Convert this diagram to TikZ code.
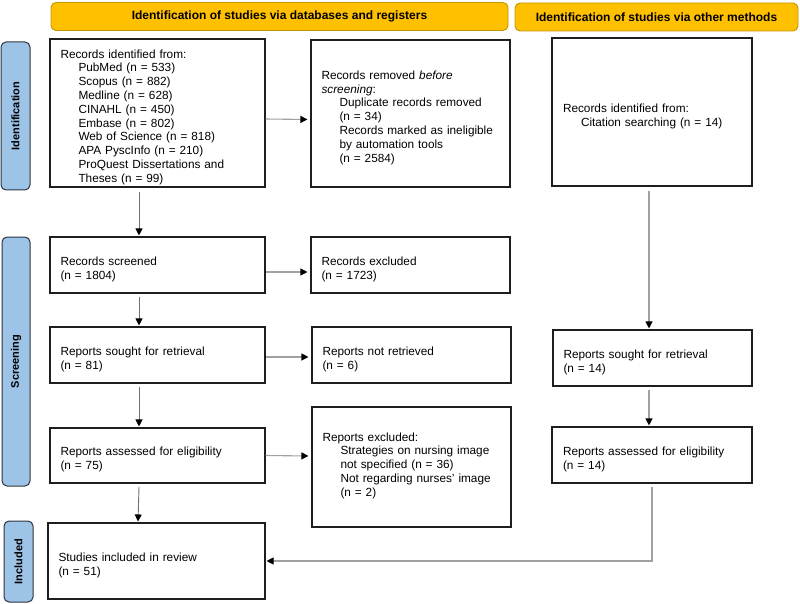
\documentclass[tikz,border=0pt]{standalone}
\usepackage{fontspec}
\setmainfont{Liberation Sans}
\usetikzlibrary{arrows.meta}
\definecolor{hdrfill}{HTML}{FFC000}
\definecolor{hdrdraw}{HTML}{C29500}
\definecolor{sidefill}{HTML}{9DC3E6}
\definecolor{sidedraw}{HTML}{2B3340}
\definecolor{linkgray}{HTML}{A0A0A0}
\definecolor{linkdark}{HTML}{707070}
\definecolor{boxdraw}{HTML}{1E1E1E}
\begin{document}
\begin{tikzpicture}[x=1pt,y=-1pt,
  box/.style={draw=boxdraw,line width=1.1pt,rectangle,inner xsep=10.5pt,inner ysep=0pt,
    align=left,font=\fontsize{11.8}{13.8}\selectfont,anchor=center,
    execute at begin node={\rule{0pt}{17pt}}},
  lbox/.style={box,minimum width=215pt,text width=194pt},
  rbox/.style={box,minimum width=199pt,text width=178pt},
  hdr/.style={draw=hdrdraw,fill=hdrfill,line width=0.9pt,rounded corners=5pt,
    font=\bfseries\fontsize{12}{14}\selectfont,minimum height=28pt,inner sep=0pt},
  side/.style={draw=sidedraw,fill=sidefill,line width=1pt,rounded corners=5pt,
    font=\bfseries\fontsize{11}{13}\selectfont,inner sep=0pt,rotate=90},
  link/.style={draw=linkgray,line width=1.1pt,-{Triangle[length=7pt,width=7pt,color=black]},shorten >=1pt},
  dlink/.style={link,draw=linkdark,line width=0.9pt}
]
\useasboundingbox (0,0) rectangle (800,604);
\newcommand{\ind}{\hspace*{18pt}}
% headers
\node[hdr,minimum width=457pt] (h1) at (279.5,16.5) {Identification of studies via databases and registers};
\node[hdr,minimum width=283pt] (h2) at (656.5,17) {Identification of studies via other methods};
% side bars
\node[side,minimum width=148pt,minimum height=29pt] (s1) at (15.5,116) {Identification};
\node[side,minimum width=249pt,minimum height=28pt] (s2) at (16,361.5) {Screening};
\node[side,minimum width=81pt,minimum height=29pt] (s3) at (18.5,561.5) {Included};
% boxes
\node[lbox,minimum height=148pt] (A) at (157.5,113) {Records identified from:\\
\ind PubMed (n = 533)\\
\ind Scopus (n = 882)\\
\ind Medline (n = 628)\\
\ind CINAHL (n = 450)\\
\ind Embase (n = 802)\\
\ind Web of Science (n = 818)\\
\ind APA PyscInfo (n = 210)\\
\ind ProQuest Dissertations and\\
\ind Theses (n = 99)};
\node[rbox,minimum height=147pt] (B) at (410.5,113.5) {Records removed \textit{before}\\
\textit{screening}:\\
\ind Duplicate records removed\\
\ind (n = 34)\\
\ind Records marked as ineligible\\
\ind by automation tools\\
\ind (n = 2584)};
\node[rbox,minimum width=200pt,minimum height=148pt] (C) at (652,112) {Records identified from:\\
\ind Citation searching (n = 14)};
\node[lbox,minimum height=56pt] (D) at (157.5,265) {Records screened\\(n = 1804)};
\node[rbox,minimum height=56pt] (E) at (410.5,265) {Records excluded\\(n = 1723)};
\node[lbox,minimum height=56pt] (F) at (157.5,355) {Reports sought for retrieval\\(n = 81)};
\node[rbox,minimum height=56pt] (G) at (411.5,355) {Reports not retrieved\\(n = 6)};
\node[rbox,minimum height=56pt] (H) at (652.5,358) {Reports sought for retrieval\\(n = 14)};
\node[lbox,minimum height=55pt] (I) at (157.5,455.5) {Reports assessed for eligibility\\(n = 75)};
\node[rbox,minimum height=120pt] (J) at (411.5,467) {Reports excluded:\\
\ind Strategies on nursing image\\
\ind not specified (n = 36)\\
\ind Not regarding nurses' image\\
\ind (n = 2)\\ \mbox{}};
\node[rbox,minimum width=200pt,minimum height=56pt] (K) at (652,455) {Reports assessed for eligibility\\(n = 14)};
\node[lbox,minimum width=217pt,text width=196pt,minimum height=76pt] (L) at (156.5,561) {Studies included in review\\(n = 51)};
% connectors
\draw[link] ([yshift=-6pt]A.east) -- ([yshift=-6pt,xshift=-2pt]B.west);
\draw[dlink] ([xshift=-18.5pt,yshift=-4pt]A.south) -- ([xshift=-18.5pt]D.north);
\draw[link] ([yshift=-7pt]D.east) -- ([yshift=-7pt,xshift=-2pt]E.west);
\draw[dlink] ([xshift=-18.5pt,yshift=-3pt]D.south) -- ([xshift=-18.5pt]F.north);
\draw[link] ([yshift=-2pt]F.east) -- ([yshift=-2pt,xshift=-2pt]G.west);
\draw[dlink] ([xshift=-18.5pt,yshift=-3pt]F.south) -- ([xshift=-18.5pt]I.north);
\draw[link] (I.east) -- ([yshift=11pt,xshift=-2pt]J.west);
\draw[dlink] ([xshift=-18.5pt,yshift=-3pt]I.south) -- ([xshift=-18.5pt]L.north);
\draw[link] ([xshift=-3pt,yshift=-4pt]C.south) -- ([xshift=-3.5pt]H.north);
\draw[link] ([xshift=-3.5pt,yshift=-3pt]H.south) -- ([xshift=-3pt]K.north);
\draw[link] ([yshift=-3pt]K.south) |- (L.east);
\end{tikzpicture}
\end{document}
